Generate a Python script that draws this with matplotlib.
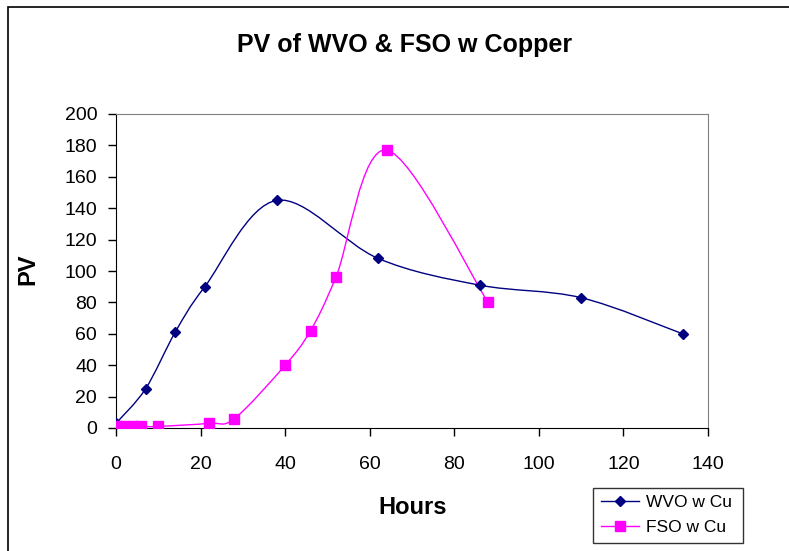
import numpy as np
import matplotlib.pyplot as plt
from matplotlib.path import Path
from matplotlib.patches import PathPatch, Rectangle
from matplotlib.lines import Line2D

plt.rcParams['font.family'] = ['Liberation Sans', 'DejaVu Sans']

wvo_hours = [0, 7, 14, 21, 38, 62, 86, 110, 134]
wvo_pv = [3, 25, 61, 90, 145, 108, 91, 83, 60]

fso_hours = [0, 2, 4, 6, 10, 22, 28, 40, 46, 52, 64, 88]
fso_pv = [1, 1, 1, 1, 1, 3, 6, 40, 62, 96, 177, 80]

x_ticks = [0, 20, 40, 60, 80, 100, 120, 140]
y_ticks = [0, 20, 40, 60, 80, 100, 120, 140, 160, 180, 200]


def smooth_path(xs, ys):
    # excel-like smoothed line: cubic bezier through each point
    pts = np.column_stack([xs, ys]).astype(float)
    n = len(pts)
    verts = [pts[0]]
    codes = [Path.MOVETO]
    for i in range(n - 1):
        p0 = pts[i - 1] if i > 0 else pts[i]
        p1 = pts[i]
        p2 = pts[i + 1]
        p3 = pts[i + 2] if i + 2 < n else pts[i + 1]
        c1 = p1 + (p2 - p0) / 6.0
        c2 = p2 - (p3 - p1) / 6.0
        verts += [c1, c2, p2]
        codes += [Path.CURVE4] * 3
    return Path(verts, codes)


fig = plt.figure(figsize=(7.89, 5.51), dpi=100)
fig.patches.append(Rectangle((8 / 789, -0.1), 1.2, 1 - 7 / 551 + 0.1,
                             transform=fig.transFigure, fill=False,
                             edgecolor='black', linewidth=1.2))

ax = fig.add_axes([116 / 789, 1 - 428 / 551, 592 / 789, 314 / 551])

ax.add_patch(PathPatch(smooth_path(wvo_hours, wvo_pv), fill=False,
                       edgecolor='#000080', linewidth=1, zorder=2))
ax.plot(wvo_hours, wvo_pv, linestyle='none', marker='D', markersize=5,
        color='#000080', zorder=3)

ax.add_patch(PathPatch(smooth_path(fso_hours, fso_pv), fill=False,
                       edgecolor='#FF00FF', linewidth=1, zorder=2))
ax.plot(fso_hours, fso_pv, linestyle='none', marker='s', markersize=7,
        color='#FF00FF', zorder=3)

ax.set_xlim(0, 140)
ax.set_ylim(0, 200)
ax.set_xticks(x_ticks)
ax.set_yticks(y_ticks)
ax.tick_params(labelsize=14, direction='out', length=5.5, width=1)
ax.tick_params(axis='x', pad=15)
ax.tick_params(axis='y', pad=8)
for s in ['top', 'right']:
    ax.spines[s].set_color('#808080')
for s in ['left', 'bottom']:
    ax.spines[s].set_color('black')

fig.text(413 / 789, 1 - 507 / 551, 'Hours', ha='center', va='center',
         fontsize=17, fontweight='bold')
fig.text(28 / 789, 1 - 269 / 551, 'PV', ha='center', va='center',
         rotation=90, fontsize=17, fontweight='bold')
fig.text(405 / 789, 1 - 45 / 551, 'PV of WVO & FSO w Copper', ha='center',
         va='center', fontsize=18, fontweight='bold')

handles = [
    Line2D([], [], color='#000080', marker='D', markersize=5, linewidth=1),
    Line2D([], [], color='#FF00FF', marker='s', markersize=7, linewidth=1),
]
leg = fig.legend(handles, ['WVO w Cu', 'FSO w Cu'], loc='lower left',
                 bbox_to_anchor=(593 / 789, 1 - 543 / 551, 150 / 789, 61 / 551),
                 mode='expand', fontsize=12.5, frameon=True, fancybox=False,
                 handlelength=2.2, handletextpad=0.4, borderaxespad=0,
                 borderpad=0.45, labelspacing=0.55)
leg.get_frame().set_edgecolor('black')
leg.get_frame().set_linewidth(1)

fig.savefig('out.png', dpi=100)
